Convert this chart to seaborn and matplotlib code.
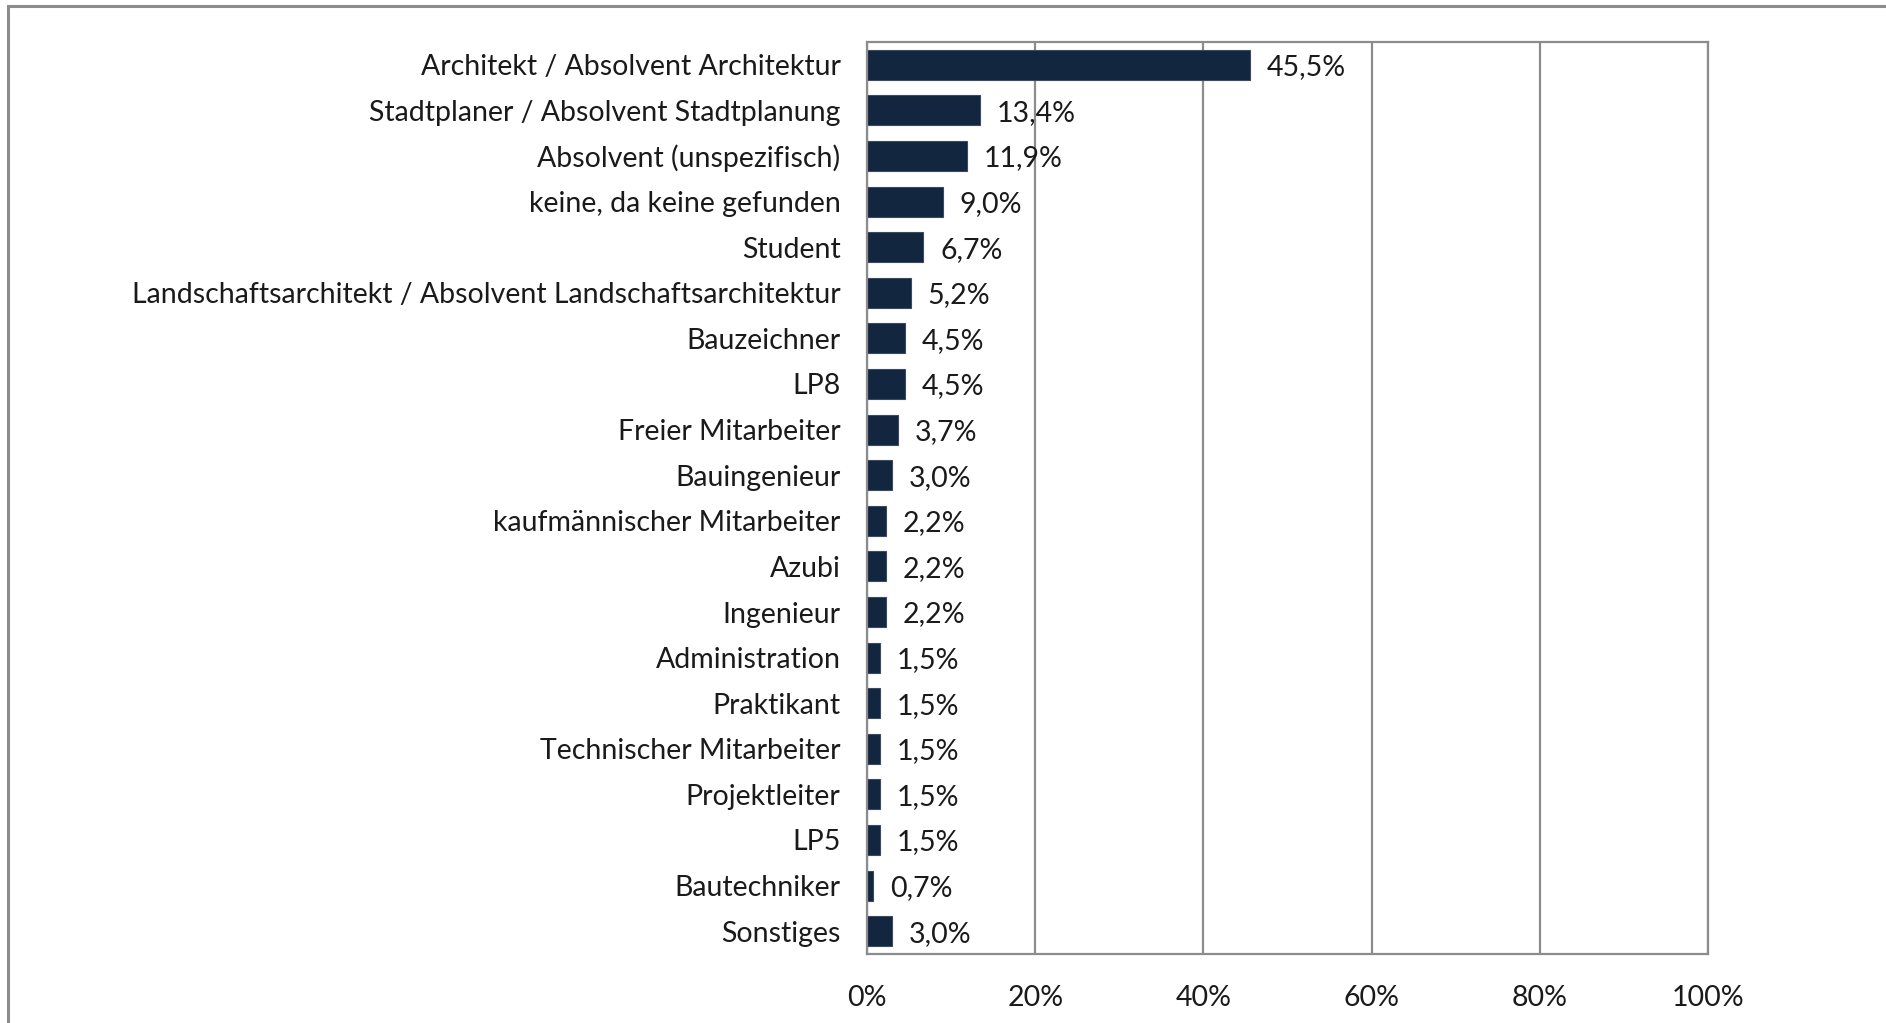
import numpy as np
import pandas as pd
import seaborn as sns
import matplotlib.pyplot as plt
from matplotlib.patches import Rectangle
from matplotlib.ticker import FixedLocator, PercentFormatter

categories = ["Architekt / Absolvent Architektur", "Stadtplaner / Absolvent Stadtplanung",
              "Absolvent (unspezifisch)", "keine, da keine gefunden", "Student",
              "Landschaftsarchitekt / Absolvent Landschaftsarchitektur", "Bauzeichner", "LP8",
              "Freier Mitarbeiter", "Bauingenieur", "kaufmännischer Mitarbeiter", "Azubi",
              "Ingenieur", "Administration", "Praktikant", "Technischer Mitarbeiter",
              "Projektleiter", "LP5", "Bautechniker", "Sonstiges"]
shares = [45.5, 13.4, 11.9, 9.0, 6.7, 5.2, 4.5, 4.5, 3.7, 3.0,
          2.2, 2.2, 2.2, 1.5, 1.5, 1.5, 1.5, 1.5, 0.7, 3.0]

df = pd.DataFrame({"Kategorie": categories, "Anteil": shares})

sns.set_style("white")
plt.rcParams['font.family'] = ['Lato', 'DejaVu Sans']
grey = "#8c8c8c"
text_col = "#1a1a1a"
fs = 20.5

fig = plt.figure(figsize=(18.86, 10.23), dpi=100)
ax = fig.add_axes([867 / 1886, 1 - 954 / 1023, (1708 - 867) / 1886, (954 - 42) / 1023])

# outer frame of the chart area (runs off the right and bottom edge)
fig.patches.append(Rectangle((8 / 1886, -0.1), 1.2, 1 - 6 / 1023 + 0.1, transform=fig.transFigure,
                             fill=False, edgecolor=grey, linewidth=2.2, zorder=0))

sns.barplot(data=df, x="Anteil", y="Kategorie", orient="h", color="#13263f",
            edgecolor="#3a4a60", linewidth=0.8, width=0.66, saturation=1, ax=ax)

ax.set_xlim(0, 100)
ax.set_ylim(len(categories) - 0.5, -0.5)
ax.set_xticks([0, 20, 40, 60, 80, 100])
ax.xaxis.set_major_formatter(PercentFormatter(decimals=0))
ax.xaxis.grid(True, color=grey, linewidth=1.6)
ax.set_axisbelow(True)
ax.set_xlabel("")
ax.set_ylabel("")

for s in ax.spines.values():
    s.set_visible(True)
    s.set_color(grey)
    s.set_linewidth(1.6)

# tick marks between categories, labels at category centres
ax.yaxis.set_minor_locator(FixedLocator(np.arange(-0.5, len(categories), 1)))
ax.tick_params(axis="y", which="major", length=0, pad=19, labelsize=fs, labelcolor=text_col)
ax.tick_params(axis="y", which="minor", length=8, width=1.6, color=grey, direction="out")
ax.tick_params(axis="x", which="major", length=0, pad=22, labelsize=fs, labelcolor=text_col)

for i, v in enumerate(shares):
    ax.text(v + 2.0, i, f"{v:.1f}%".replace(".", ","), va="center_baseline", ha="left",
            fontsize=fs, color=text_col)

fig.savefig("out.png", dpi=100)
